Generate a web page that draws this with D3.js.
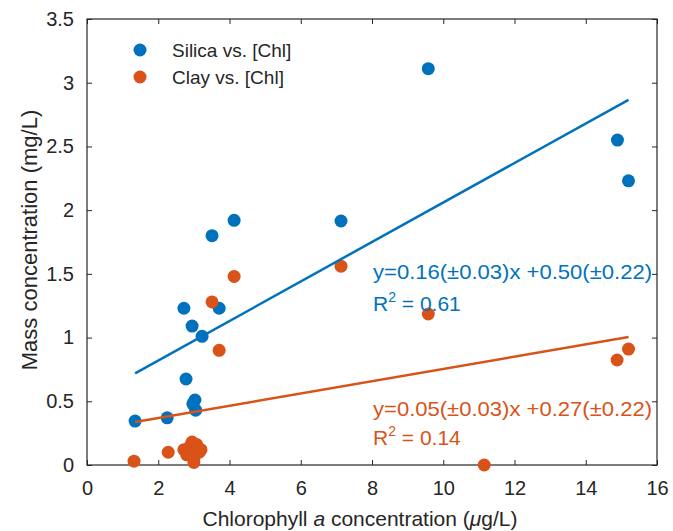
<!DOCTYPE html>
<html><head><meta charset="utf-8">
<script src="https://cdn.jsdelivr.net/npm/d3@7"></script>
<style>body{margin:0;background:#fff}svg{display:block}text{font-family:"Liberation Sans",Arial,Helvetica,sans-serif}</style>
</head><body><svg id="c" width="673" height="531"></svg>
<script>
const xTicks = [0, 2, 4, 6, 8, 10, 12, 14, 16];
const yTicks = [0, 0.5, 1, 1.5, 2, 2.5, 3, 3.5];
const yTickLabels = ["0", "0.5", "1", "1.5", "2", "2.5", "3", "3.5"];
const silicaX = [1.35, 2.25, 2.72, 2.78, 2.95, 2.97, 3.03, 3.05, 3.23, 3.51, 3.71, 4.13, 7.13, 9.58, 14.89, 15.2];
const silicaY = [0.345, 0.37, 1.23, 0.675, 1.09, 0.48, 0.51, 0.43, 1.01, 1.80, 1.23, 1.92, 1.915, 3.11, 2.55, 2.23];
const clayX = [1.32, 2.28, 2.72, 2.8, 2.9, 2.95, 3.0, 3.02, 3.08, 3.15, 3.2, 3.0, 3.51, 3.71, 4.13, 7.13, 9.58, 11.15, 14.88, 15.2];
const clayY = [0.03, 0.1, 0.12, 0.08, 0.15, 0.18, 0.05, 0.1, 0.16, 0.1, 0.12, 0.02, 1.28, 0.90, 1.48, 1.56, 1.185, 0.0, 0.824, 0.91];
const seriesNames = ["Silica vs. [Chl]", "Clay vs. [Chl]"];
const fitSlope = [0.155, 0.0482];
const fitIntercept = [0.51, 0.272];
const fitRange = [1.35, 15.2];
const eqText = ["y=0.16(\u00b10.03)x +0.50(\u00b10.22)", "y=0.05(\u00b10.03)x +0.27(\u00b10.22)"];
const r2Text = ["0.61", "0.14"];
const colors = ["#0072BD", "#D95319"];

const svg = d3.select("#c");
const L = 87, R = 657, T = 19, B = 465;
const x = d3.scaleLinear().domain([0, 16]).range([L, R]);
const y = d3.scaleLinear().domain([0, 3.5]).range([B, T]);
const axCol = "#262626";
const tickLen = 5;

// axes
const fs = 20;
svg.append("g").attr("transform", `translate(0,${B})`)
  .call(d3.axisBottom(x).tickValues(xTicks).tickSize(-tickLen).tickPadding(16).tickFormat(d3.format("d")))
  .call(g => { g.select(".domain").remove(); g.selectAll("line").attr("stroke", axCol);
    g.selectAll("text").attr("fill", axCol).style("font-size", fs + "px"); });
svg.append("g").attr("transform", `translate(0,${T})`)
  .call(d3.axisTop(x).tickValues(xTicks).tickSize(-tickLen).tickFormat(""))
  .call(g => { g.select(".domain").remove(); g.selectAll("line").attr("stroke", axCol); });
svg.append("g").attr("transform", `translate(${L},0)`)
  .call(d3.axisLeft(y).tickValues(yTicks).tickSize(-tickLen).tickPadding(13).tickFormat((d, i) => yTickLabels[i]))
  .call(g => { g.select(".domain").remove(); g.selectAll("line").attr("stroke", axCol);
    g.selectAll("text").attr("fill", axCol).style("font-size", fs + "px"); });
svg.append("g").attr("transform", `translate(${R},0)`)
  .call(d3.axisRight(y).tickValues(yTicks).tickSize(-tickLen).tickFormat(""))
  .call(g => { g.select(".domain").remove(); g.selectAll("line").attr("stroke", axCol); });
svg.append("rect").attr("x", L).attr("y", T).attr("width", R - L).attr("height", B - T)
  .attr("fill", "none").attr("stroke", axCol).attr("stroke-width", 1.2);

// points: silica first, clay on top
const sets = [[silicaX, silicaY], [clayX, clayY]];
sets.forEach(([xs, ys], k) => {
  svg.append("g").selectAll("circle").data(xs.map((v, i) => [v, ys[i]])).join("circle")
    .attr("cx", d => x(d[0])).attr("cy", d => y(d[1])).attr("r", 6.5).attr("fill", colors[k]);
});

// fit lines
[0, 1].forEach(k => {
  const pts = fitRange.map(v => [v, fitSlope[k] * v + fitIntercept[k]]);
  svg.append("path").attr("d", d3.line().x(d => x(d[0])).y(d => y(d[1]))(pts))
    .attr("stroke", colors[k]).attr("stroke-width", 2.5).attr("fill", "none");
});

// equations
const eqY = [279, 416], r2Y = [311, 445];
[0, 1].forEach(k => {
  svg.append("text").attr("x", 373).attr("y", eqY[k]).attr("fill", colors[k])
    .style("font-size", "21px").attr("textLength", 279).attr("lengthAdjust", "spacingAndGlyphs").text(eqText[k]);
  const t = svg.append("text").attr("x", 373).attr("y", r2Y[k]).attr("fill", colors[k]).style("font-size", "21px");
  t.append("tspan").text("R");
  t.append("tspan").attr("dy", -9).style("font-size", "14px").text("2");
  t.append("tspan").attr("dy", 9).text(" = " + r2Text[k]);
});

// legend
seriesNames.forEach((n, k) => {
  const ly = 50 + k * 27;
  svg.append("circle").attr("cx", 140).attr("cy", ly).attr("r", 6.5).attr("fill", colors[k]);
  svg.append("text").attr("x", 172).attr("y", ly).attr("dy", "0.35em").attr("fill", axCol)
    .style("font-size", "19px").text(n);
});

// axis labels
const xl = svg.append("text").attr("x", (L + R) / 2 - 12).attr("y", 526).attr("text-anchor", "middle")
  .attr("fill", axCol).style("font-size", "21px");
xl.append("tspan").text("Chlorophyll ");
xl.append("tspan").style("font-style", "italic").text("a");
xl.append("tspan").text(" concentration (");
xl.append("tspan").style("font-style", "italic").text("\u03bc");
xl.append("tspan").text("g/L)");
svg.append("text").attr("transform", `translate(37,${(T + B) / 2 - 2}) rotate(-90)`).attr("text-anchor", "middle")
  .attr("fill", axCol).style("font-size", "22px").text("Mass concentration (mg/L)");
</script></body></html>
